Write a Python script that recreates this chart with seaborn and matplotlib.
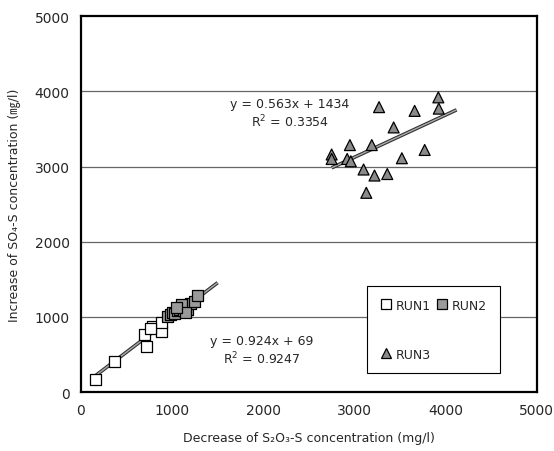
import matplotlib
matplotlib.use("Agg")
import matplotlib.pyplot as plt
import seaborn as sns
import pandas as pd
import numpy as np

run1_x = [160, 370, 720, 700, 790, 880, 880, 760]
run1_y = [170, 400, 600, 760, 870, 800, 920, 840]
run2_x = [950, 980, 1000, 1030, 1060, 1080, 1100, 1120, 1150, 1170, 1200, 1100, 1150, 1050, 1250, 1280]
run2_y = [1000, 1030, 1060, 1040, 1080, 1100, 1120, 1080, 1150, 1100, 1180, 1160, 1060, 1120, 1200, 1290]
run3_x = [3920, 3925, 3660, 3270, 3430, 2950, 3190, 2750, 2750, 2920, 2960, 3770, 3520, 3100, 3220, 3360, 3130]
run3_y = [3920, 3770, 3740, 3790, 3520, 3285, 3285, 3160, 3100, 3100, 3070, 3220, 3110, 2960, 2880, 2900, 2650]

fit12 = (0.924, 69, [150, 1500])
fit3 = (0.563, 1434, [2750, 4120])
eq12 = ["y = 0.924x + 69", "R$^2$ = 0.9247"]
eq3 = ["y = 0.563x + 1434", "R$^2$ = 0.3354"]

ticks = [0, 1000, 2000, 3000, 4000, 5000]

df = pd.DataFrame({
    "x": run1_x + run2_x + run3_x,
    "y": run1_y + run2_y + run3_y,
    "run": ["RUN1"] * len(run1_x) + ["RUN2"] * len(run2_x) + ["RUN3"] * len(run3_x),
})

sns.set_style("white")
plt.rcParams['font.family'] = ['DejaVu Sans', 'Noto Sans CJK JP']

fig = plt.figure(figsize=(5.54, 4.52), dpi=100)
ax = fig.add_axes([0.146, 0.1305, 0.823, 0.8315])

for m, b, xs in (fit12, fit3):
    xs = np.array(xs, dtype=float)
    ax.plot(xs, m * xs + b, color="#333333", lw=2.6, zorder=2, solid_capstyle="butt")
    ax.plot(xs, m * xs + b, color="#aaaaaa", lw=1.0, zorder=2.1, solid_capstyle="butt")

sns.scatterplot(data=df, x="x", y="y", hue="run", style="run",
                palette={"RUN1": "white", "RUN2": "#9a9a9a", "RUN3": "#8a8a8a"},
                markers={"RUN1": "s", "RUN2": "s", "RUN3": "^"},
                s=62, edgecolor="black", linewidth=0.9, ax=ax, zorder=3, legend=True)

ax.set_xlim(0, 5000)
ax.set_ylim(0, 5000)
ax.set_xticks(ticks)
ax.set_yticks(ticks)
ax.set_xticklabels([str(t) for t in ticks], fontsize=10)
ax.set_yticklabels([str(t) for t in ticks], fontsize=10)
ax.tick_params(direction="in", length=3, color="black", pad=8)
for t in [1000, 2000, 3000, 4000]:
    ax.axhline(t, color="#666666", lw=0.9, zorder=1)
for sp in ax.spines.values():
    sp.set_color("black")
    sp.set_linewidth(1.6)

ax.set_xlabel("Decrease of S₂O₃-S concentration (mg/l)", fontsize=9, labelpad=10)
ax.set_ylabel("Increase of SO₄-S concentration (㎎/l)", fontsize=9, labelpad=10)

ax.text(2290, 3840, eq3[0], ha="center", va="center", fontsize=9)
ax.text(2290, 3600, eq3[1], ha="center", va="center", fontsize=9)
ax.text(1985, 680, eq12[0], ha="center", va="center", fontsize=9)
ax.text(1985, 450, eq12[1], ha="center", va="center", fontsize=9)

handles, labels = ax.get_legend_handles_labels()
order = [labels.index("RUN1"), labels.index("RUN3"), labels.index("RUN2")]
leg = ax.legend([handles[i] for i in order], [labels[i] for i in order],
                ncol=2, loc="upper left",
                bbox_to_anchor=(0.627, 0.282), borderaxespad=0,
                frameon=True, fancybox=False, edgecolor="black",
                framealpha=1, fontsize=9, labelspacing=2.9,
                handletextpad=0.3, columnspacing=0.4, borderpad=1.0,
                handlelength=1.0)
leg.get_frame().set_linewidth(0.8)

fig.savefig("out.png", dpi=100)
